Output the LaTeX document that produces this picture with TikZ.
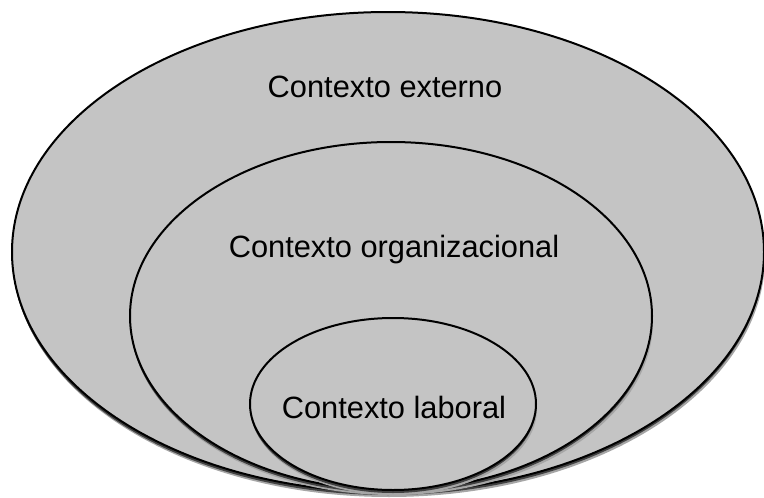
\documentclass[tikz,border=0pt]{standalone}
\usepackage{fontspec}
\setmainfont{Liberation Sans}
\definecolor{ringfill}{gray}{0.77}
\tikzset{
  ring/.style={fill=ringfill, draw=black, line width=2pt},
  ringshadow/.style={fill=black!75},
  ringhalo/.style={fill=black!35},
  label/.style={font=\fontsize{30.8}{36}\selectfont, anchor=base, inner sep=0pt}
}
\begin{document}
\begin{tikzpicture}[x=1pt,y=-1pt]
\useasboundingbox (0,0) rectangle (764,498);
% outer ellipse
\fill[ringhalo]   (389,257) ellipse [x radius=376, y radius=240];
\fill[ringshadow] (388,255) ellipse [x radius=376, y radius=240];
\filldraw[ring]   (388,252) ellipse [x radius=376, y radius=240];
% middle ellipse
\fill[ringhalo]   (392,321) ellipse [x radius=261, y radius=174];
\fill[ringshadow] (391,319) ellipse [x radius=261, y radius=174];
\filldraw[ring]   (391,316) ellipse [x radius=261, y radius=174];
% inner ellipse
\fill[ringhalo]   (394,409) ellipse [x radius=143, y radius=86];
\fill[ringshadow] (393,407) ellipse [x radius=143, y radius=86];
\filldraw[ring]   (393,404) ellipse [x radius=143, y radius=86];
% captions
\node[label] (ext) at (385,97)  {Contexto externo};
\node[label] (org) at (394,257) {Contexto organizacional};
\node[label] (lab) at (394,418) {Contexto laboral};
\end{tikzpicture}
\end{document}
